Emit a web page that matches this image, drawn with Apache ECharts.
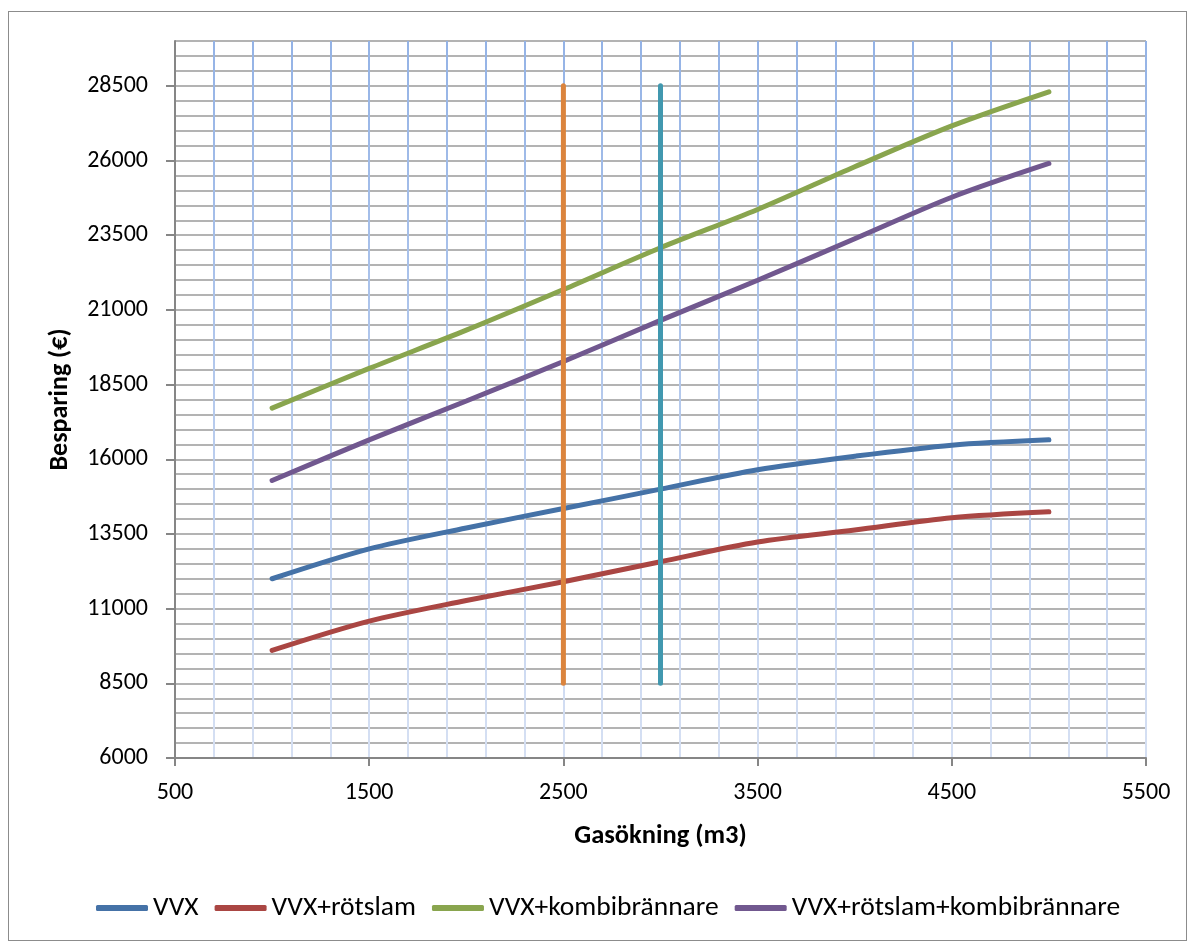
<!DOCTYPE html>
<html>
<head>
<meta charset="utf-8">
<script src="https://cdn.jsdelivr.net/npm/echarts@6/dist/echarts.min.js"></script>
<style>
html,body{margin:0;padding:0;background:#fff;}
#frame{position:absolute;left:8px;top:11px;width:1179px;height:930px;border:1px solid #8c8c8c;box-sizing:border-box;}
#chart{position:absolute;left:0;top:0;width:1192px;height:942px;}
</style>
</head>
<body>
<div id="frame"></div>
<div id="chart"></div>
<script>
// Gas increase (m3)
const xValues = [1000, 1500, 2000, 2500, 3000, 3500, 4000, 4500, 5000];
// Savings (€)
const vvx = [12000, 13000, 13700, 14350, 15000, 15650, 16100, 16470, 16650];
const vvxRotslam = [9600, 10580, 11270, 11900, 12570, 13230, 13630, 14040, 14240];
const vvxKombi = [17710, 19040, 20320, 21680, 23080, 24360, 25790, 27160, 28300];
const vvxRotslamKombi = [15290, 16650, 17950, 19270, 20650, 21990, 23380, 24770, 25900];
const seriesNames = ['VVX', 'VVX+rötslam', 'VVX+kombibrännare', 'VVX+rötslam+kombibrännare'];
// Vertical marker lines
const markerX = [2500, 3000];
const markerRange = [8500, 28500];
// Tick labels
const xTicks = [500, 1500, 2500, 3500, 4500, 5500];
const yTicks = [6000, 8500, 11000, 13500, 16000, 18500, 21000, 23500, 26000, 28500];

const FONT = 'Carlito, Calibri, Lato, sans-serif';
const colors = ['#4572A7', '#AA4643', '#89A54E', '#71588F'];
const markerColors = ['#DB843D', '#4198AF'];

const zip = arr => xValues.map((x, i) => [x, arr[i]]);
const lineData = [vvx, vvxRotslam, vvxKombi, vvxRotslamKombi];

const series = lineData.map((d, i) => ({
  name: seriesNames[i],
  type: 'line',
  data: zip(d),
  smooth: 0.3,
  symbol: 'none',
  lineStyle: { color: colors[i], width: 5, cap: 'round' },
  itemStyle: { color: colors[i] },
  z: 3
}));
markerX.forEach((x, i) => {
  series.push({
    name: 'marker' + i,
    type: 'line',
    data: [[x, markerRange[0]], [x, markerRange[1]]],
    symbol: 'none',
    lineStyle: { color: markerColors[i], width: 5, cap: 'round' },
    itemStyle: { color: markerColors[i] },
    z: 4
  });
});

const plain = v => String(v);
const axisGrey = { color: '#868686', width: 2 };

const chart = echarts.init(document.getElementById('chart'));
chart.setOption({
  animation: false,
  backgroundColor: 'transparent',
  grid: { left: 175, right: 46, top: 41, bottom: 184, containLabel: false },
  legend: {
    data: seriesNames,
    left: 91,
    top: 889,
    itemWidth: 52,
    itemHeight: 6,
    itemGap: 16,
    icon: 'roundRect',
    textStyle: { fontFamily: FONT, fontSize: 27.5, color: '#000' }
  },
  xAxis: [
    {
      type: 'value',
      min: 500, max: 5500, interval: 200,
      axisLine: { show: false },
      axisTick: { show: false },
      axisLabel: { show: false },
      splitLine: {
        show: true,
        lineStyle: {
          width: 2,
          color: {
            type: 'linear', x: 0, y: 41, x2: 0, y2: 758, global: true,
            colorStops: [{ offset: 0, color: '#94b3e6' }, { offset: 1, color: '#d6e0f3' }]
          }
        }
      }
    },
    {
      type: 'value',
      min: 500, max: 5500, interval: 1000,
      position: 'bottom',
      name: 'Gasökning (m3)',
      nameLocation: 'middle',
      nameGap: 65,
      nameTextStyle: { fontFamily: FONT, fontSize: 26.5, fontWeight: 'bold', color: '#000' },
      axisLine: { show: true, onZero: false, lineStyle: axisGrey },
      axisTick: { show: true, length: 8, customValues: xTicks, lineStyle: axisGrey },
      axisLabel: { customValues: xTicks, formatter: plain, margin: 23, fontFamily: FONT, fontSize: 24, color: '#000' },
      splitLine: { show: false }
    }
  ],
  yAxis: [
    {
      type: 'value',
      min: 6000, max: 30000, interval: 500,
      axisLine: { show: false },
      axisTick: { show: false },
      axisLabel: { show: false },
      splitLine: { show: true, lineStyle: { color: '#b3b3b3', width: 2 } }
    },
    {
      type: 'value',
      min: 6000, max: 30000, interval: 2500,
      position: 'left',
      name: 'Besparing (€)',
      nameLocation: 'middle',
      nameGap: 102,
      nameTextStyle: { fontFamily: FONT, fontSize: 26, fontWeight: 'bold', color: '#000' },
      axisLine: { show: true, onZero: false, lineStyle: axisGrey },
      axisTick: { show: true, length: 9, customValues: yTicks, lineStyle: axisGrey },
      axisLabel: { customValues: yTicks, formatter: plain, margin: 27, fontFamily: FONT, fontSize: 24, color: '#000' },
      splitLine: { show: false }
    }
  ],
  series: series
});
</script>
</body>
</html>
